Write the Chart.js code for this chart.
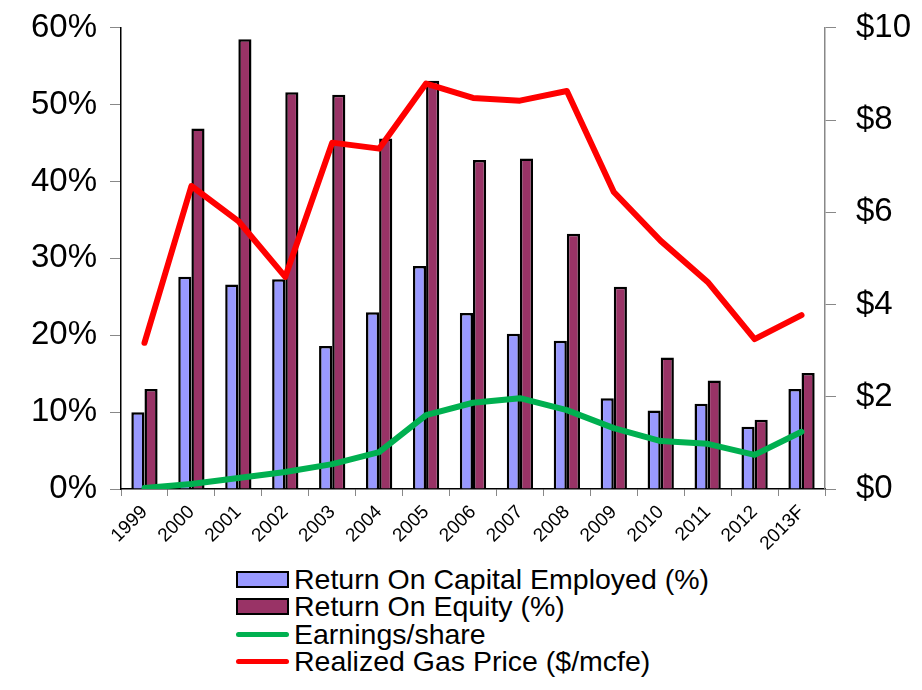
<!DOCTYPE html>
<html>
<head>
<meta charset="utf-8">
<script src="https://cdn.jsdelivr.net/npm/chart.js@4.4.0/dist/chart.umd.min.js"></script>
<style>
  body { margin: 0; background: #fff; font-family: "Liberation Sans", Arial, sans-serif; overflow: hidden; }
  #wrap { position: relative; width: 922px; height: 690px; overflow: hidden; }
  #chart { position: absolute; left: 0; top: -12px; }
  #legend { position: absolute; left: 236px; top: 566px; }
  .item { height: 27.3px; display: flex; align-items: center; font-size: 28.5px; color: #000; }
  .swatch { width: 53px; margin-right: 5px; box-sizing: border-box; }
  .box { height: 17px; border: 2.5px solid #000; }
  .line { height: 5px; border-radius: 3px; }
</style>
</head>
<body>
<div id="wrap">
  <canvas id="chart" width="922" height="572"></canvas>
  <div id="legend"></div>
</div>
<script>
var years = ["1999", "2000", "2001", "2002", "2003", "2004", "2005", "2006", "2007", "2008", "2009", "2010", "2011", "2012", "2013F"];
var roce = [10.0, 27.6, 26.6, 27.3, 18.6, 23.0, 29.0, 22.9, 20.2, 19.3, 11.8, 10.2, 11.1, 8.1, 13.0];
var roe = [13.0, 46.9, 58.5, 51.6, 51.3, 45.6, 53.1, 42.8, 43.0, 33.2, 26.3, 17.1, 14.1, 9.0, 15.1];
var eps = [0.02, 0.11, 0.24, 0.37, 0.54, 0.80, 1.60, 1.87, 1.97, 1.71, 1.32, 1.04, 0.98, 0.74, 1.24];
var gasPrice = [3.17, 6.57, 5.81, 4.60, 7.51, 7.38, 8.79, 8.48, 8.42, 8.63, 6.44, 5.38, 4.49, 3.25, 3.77];

var fontName = "'Liberation Sans', Arial, sans-serif";

var ctx = document.getElementById("chart");
var chart = new Chart(ctx, {
	type: 'bar',
	data: {
		labels: years,
		datasets: [{
			label: "Return On Capital Employed (%)",
			data: roce,
			yAxisID: 'y',
			backgroundColor: "#9999FF",
			borderColor: "#000000",
			borderWidth: 2.5,
			borderSkipped: 'bottom',
			categoryPercentage: 0.56,
			barPercentage: 1.0,
			order: 2
		}, {
			label: "Return On Equity (%)",
			data: roe,
			yAxisID: 'y',
			backgroundColor: "#993366",
			borderColor: "#000000",
			borderWidth: 2.5,
			borderSkipped: 'bottom',
			categoryPercentage: 0.56,
			barPercentage: 1.0,
			order: 3
		}, {
			type: 'line',
			label: "Earnings/share",
			data: eps,
			yAxisID: 'y2',
			borderColor: "#00B050",
			backgroundColor: "#00B050",
			borderWidth: 6,
			pointRadius: 0,
			tension: 0,
			borderCapStyle: 'round',
			borderJoinStyle: 'round',
			order: 1
		}, {
			type: 'line',
			label: "Realized Gas Price ($/mcfe)",
			data: gasPrice,
			yAxisID: 'y2',
			borderColor: "#FF0000",
			backgroundColor: "#FF0000",
			borderWidth: 6,
			pointRadius: 0,
			tension: 0,
			borderCapStyle: 'round',
			borderJoinStyle: 'round',
			order: 0
		}]
	},
	options: {
		responsive: false,
		animation: false,
		layout: { padding: { top: 8, left: 0, right: 0, bottom: 0 } },
		plugins: {
			legend: { display: false },
			tooltip: { enabled: false }
		},
		scales: {
			x: {
				offset: true,
				grid: { display: true, drawOnChartArea: false, offset: true, tickLength: 7, color: '#888' },
				border: { color: '#000', width: 1.5 },
				ticks: {
					color: '#000',
					font: { family: fontName, size: 19 },
					maxRotation: 45,
					minRotation: 45,
					autoSkip: false,
					padding: 5
				},
				afterFit: function(scale) { scale.height = 71; }
			},
			y: {
				position: 'left',
				min: 0,
				max: 60,
				grid: { display: true, drawOnChartArea: false, tickLength: 11, color: '#888' },
				border: { color: '#000', width: 1.5 },
				ticks: {
					stepSize: 10,
					color: '#000',
					font: { family: fontName, size: 33 },
					padding: 13,
					callback: function(v) { return v + '%'; }
				},
				afterFit: function(scale) { scale.width = 121; }
			},
			y2: {
				position: 'right',
				min: 0,
				max: 10,
				grid: { display: true, drawOnChartArea: false, tickLength: 11, color: '#888' },
				border: { color: '#888', width: 1.5 },
				ticks: {
					stepSize: 2,
					color: '#000',
					font: { family: fontName, size: 33 },
					padding: 20,
					callback: function(v) { return '$' + v; }
				},
				afterFit: function(scale) { scale.width = 97; }
			}
		}
	}
});

// legend: bars first, then lines
var legend = document.getElementById("legend");
chart.data.datasets.forEach(function(ds) {
	var row = document.createElement("div");
	row.className = "item";
	var sw = document.createElement("div");
	if (ds.type === 'line') {
		sw.className = "swatch line";
		sw.style.background = ds.borderColor;
	} else {
		sw.className = "swatch box";
		sw.style.background = ds.backgroundColor;
	}
	var txt = document.createElement("span");
	txt.textContent = ds.label;
	row.appendChild(sw);
	row.appendChild(txt);
	legend.appendChild(row);
});
</script>
</body>
</html>
